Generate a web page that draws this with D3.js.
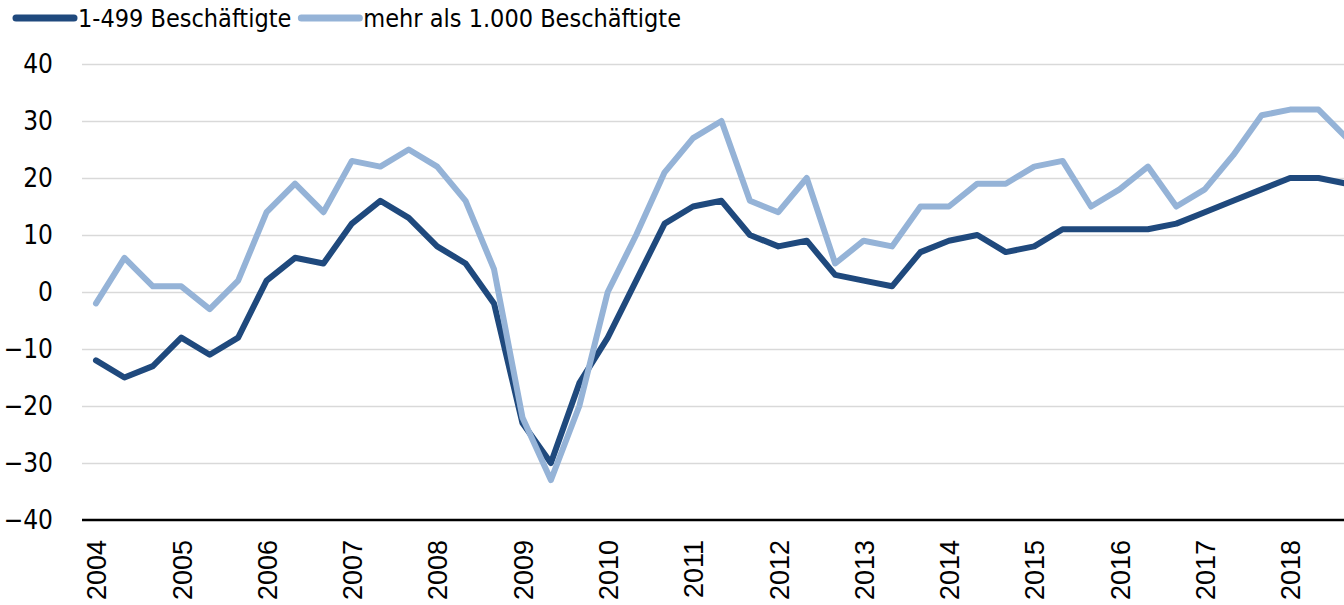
<!DOCTYPE html>
<html>
<head>
<meta charset="utf-8">
<script src="https://cdn.jsdelivr.net/npm/d3@7"></script>
<style>
  body { margin: 0; background: #fff; }
  svg { display: block; }
</style>
</head>
<body>
<div id="chart-area"></div>
<script>
const years = [2004, 2005, 2006, 2007, 2008, 2009, 2010, 2011, 2012, 2013, 2014, 2015, 2016, 2017, 2018];
// three survey waves per year
const waves = years.flatMap(y => [y + "-1", y + "-2", y + "-3"]);

const small = [-12, -15, -13, -8, -11, -8, 2, 6, 5, 12, 16, 13, 8, 5, -2, -23, -30, -16,
  -8, 2, 12, 15, 16, 10, 8, 9, 3, 2, 1, 7, 9, 10, 7, 8, 11, 11, 11, 11, 12, 14, 16, 18, 20, 20, 19];
const large = [-2, 6, 1, 1, -3, 2, 14, 19, 14, 23, 22, 25, 22, 16, 4, -22, -33, -20,
  0, 10, 21, 27, 30, 16, 14, 20, 5, 9, 8, 15, 15, 19, 19, 22, 23, 15, 18, 22, 15, 18, 24, 31, 32, 32, 27];

const yTicks = [-40, -30, -20, -10, 0, 10, 20, 30, 40];

const seriesNames = ["1-499 Beschäftigte", "mehr als 1.000 Beschäftigte"];
const seriesColors = ["#1f497d", "#95b3d7"];

const width = 1344;
const height = 605;
const condensed = "'DejaVu Sans Condensed', 'DejaVu Sans', sans-serif";

const svg = d3.select("#chart-area")
  .append("svg")
  .attr("width", width)
  .attr("height", height);

const x = d3.scaleLinear()
  .domain([0, waves.length - 1])
  .range([96, 96 + 44 * 28.43]);

const y = d3.scaleLinear()
  .domain([-40, 40])
  .range([520, 64]);

// gridlines + y labels
const yAxis = svg.append("g")
  .attr("transform", "translate(82,0)")
  .call(d3.axisLeft(y).tickValues(yTicks).tickSize(-(width - 82)).tickPadding(29).tickFormat(d3.format("d")));
yAxis.select(".domain").remove();
yAxis.selectAll(".tick line")
  .attr("stroke", d => d === -40 ? "none" : "#d9d9d9")
  .attr("stroke-width", 1.5);
yAxis.selectAll(".tick text")
  .style("font-family", condensed)
  .style("font-stretch", "condensed")
  .style("font-size", "26px")
  .attr("fill", "#000")
  .text(d => d < 0 ? "\u2212" + Math.abs(d) : d);

// x axis
const xAxis = svg.append("g")
  .attr("transform", "translate(0,520)")
  .call(d3.axisBottom(x)
    .tickValues(d3.range(0, waves.length, 3))
    .tickSize(0)
    .tickFormat(i => waves[i].slice(0, 4)));
xAxis.select(".domain")
  .attr("d", `M82,0H${width}`)
  .attr("stroke", "#000")
  .attr("stroke-width", 2.5);
xAxis.selectAll(".tick text")
  .style("font-family", "'Liberation Sans', Arial, sans-serif")
  .style("font-size", "27px")
  .attr("fill", "#000")
  .attr("text-anchor", "end")
  .attr("transform", "rotate(-90)")
  .attr("x", -20)
  .attr("y", 0)
  .attr("dy", "0.36em");

// lines
const line = d3.line()
  .x((d, i) => x(i))
  .y(d => y(d));

[small, large].forEach((data, k) => {
  svg.append("path")
    .datum(data)
    .attr("fill", "none")
    .attr("stroke", seriesColors[k])
    .attr("stroke-width", 6)
    .attr("stroke-linejoin", "round")
    .attr("stroke-linecap", "round")
    .attr("d", line);
});

// legend
let lx = 16;
seriesNames.forEach((name, k) => {
  svg.append("line")
    .attr("x1", lx).attr("x2", lx + 58)
    .attr("y1", 18).attr("y2", 18)
    .attr("stroke", seriesColors[k])
    .attr("stroke-width", 7)
    .attr("stroke-linecap", "round");
  const t = svg.append("text")
    .attr("x", lx + 62)
    .attr("y", 27)
    .style("font-family", condensed)
    .style("font-stretch", "condensed")
    .style("font-size", "25px")
    .attr("fill", "#000")
    .text(name);
  lx = lx + 62 + t.node().getComputedTextLength() + 10;
});
</script>
</body>
</html>
